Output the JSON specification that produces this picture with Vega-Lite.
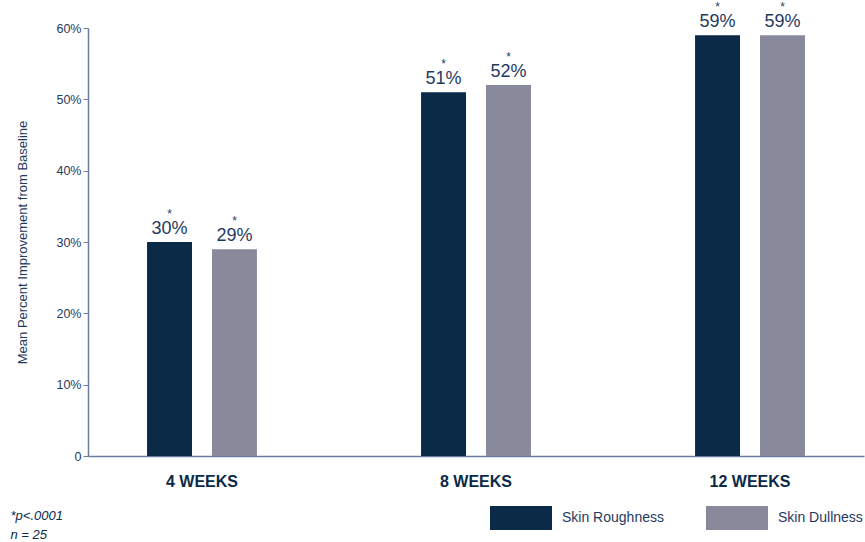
{
  "$schema": "https://vega.github.io/schema/vega-lite/v6.json",
  "width": 776,
  "height": 428,
  "autosize": {"type": "none"},
  "padding": {"left": 88, "top": 28, "right": 1, "bottom": 86},
  "background": "white",
  "config": {
    "font": "Liberation Sans",
    "view": {"stroke": null},
    "axis": {"grid": false}
  },
  "data": {
    "values": [
      {"period": "4 WEEKS", "measure": "Skin Roughness", "value": 0.30, "label": "30%"},
      {"period": "4 WEEKS", "measure": "Skin Dullness", "value": 0.29, "label": "29%"},
      {"period": "8 WEEKS", "measure": "Skin Roughness", "value": 0.51, "label": "51%"},
      {"period": "8 WEEKS", "measure": "Skin Dullness", "value": 0.52, "label": "52%"},
      {"period": "12 WEEKS", "measure": "Skin Roughness", "value": 0.59, "label": "59%"},
      {"period": "12 WEEKS", "measure": "Skin Dullness", "value": 0.59, "label": "59%"}
    ]
  },
  "encoding": {
    "x": {
      "field": "period",
      "type": "nominal",
      "sort": ["4 WEEKS", "8 WEEKS", "12 WEEKS"],
      "scale": {"paddingInner": 0.526, "paddingOuter": 0.179},
      "axis": {
        "title": ["*p<.0001", "n = 25"],
        "titleX": -78,
        "titleY": 53,
        "titleAlign": "left",
        "titleAnchor": "start",
        "titleBaseline": "top",
        "titleFontStyle": "italic",
        "titleFontWeight": "normal",
        "titleFontSize": 13,
        "titleLineHeight": 19,
        "titleColor": "#0b2a4a",
        "labelAngle": 0,
        "labelFontSize": 16,
        "labelFontWeight": "bold",
        "labelColor": "#0b2a4a",
        "labelPadding": 17,
        "ticks": false,
        "domainColor": "#6a7f9c",
        "domainWidth": 1.5
      }
    },
    "xOffset": {
      "field": "measure",
      "type": "nominal",
      "sort": ["Skin Roughness", "Skin Dullness"],
      "scale": {"paddingInner": 0.3077, "paddingOuter": 0.1538}
    },
    "y": {
      "field": "value",
      "type": "quantitative",
      "scale": {"domain": [0, 0.6], "nice": false},
      "axis": {
        "title": "Mean Percent Improvement from Baseline",
        "titleFontSize": 13,
        "titleFontWeight": "normal",
        "titleColor": "#1f3a5f",
        "titlePadding": 26,
        "values": [0, 0.1, 0.2, 0.3, 0.4, 0.5, 0.6],
        "labelExpr": "datum.value == 0 ? '0' : format(datum.value, '.0%')",
        "labelFontSize": 12.5,
        "labelColor": "#1f3a5f",
        "tickColor": "#6a7f9c",
        "tickSize": 5,
        "domainColor": "#6a7f9c",
        "domainWidth": 1.5
      }
    }
  },
  "layer": [
    {
      "mark": {"type": "bar"},
      "encoding": {
        "color": {
          "field": "measure",
          "type": "nominal",
          "sort": ["Skin Roughness", "Skin Dullness"],
          "scale": {"domain": ["Skin Roughness", "Skin Dullness"], "range": ["#0a2a48", "#888a9c"]},
          "legend": {
            "title": null,
            "orient": "none",
            "legendX": 402,
            "legendY": 459,
            "direction": "horizontal",
            "columns": 2,
            "padding": 0,
            "symbolType": "M-1,-0.387H1V0.387H-1Z",
            "symbolSize": 3844,
            "symbolStrokeWidth": 0,
            "symbolOpacity": 1,
            "labelFontSize": 14,
            "labelColor": "#1f3a5f",
            "labelOffset": 10,
            "columnPadding": 42
          }
        }
      }
    },
    {
      "mark": {"type": "text", "baseline": "alphabetic", "dy": -8, "fontSize": 18, "color": "#1f3a5f"},
      "encoding": {"text": {"field": "label"}}
    },
    {
      "mark": {"type": "text", "baseline": "bottom", "dy": -21, "fontSize": 12, "color": "#1f3a5f"},
      "encoding": {"text": {"value": "*"}}
    }
  ]
}
